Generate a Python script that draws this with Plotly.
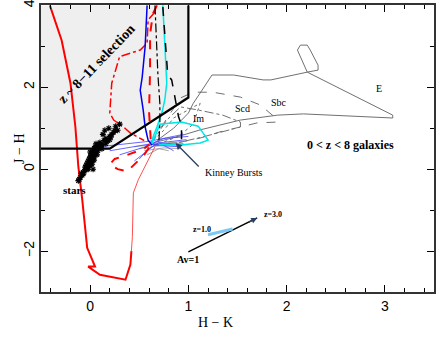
import plotly.graph_objects as go

# selection box (z ~ 8-11)
sel_x = [-0.5, 0.2, 1.0, 1.0]
sel_y = [0.5, 0.5, 1.75, 4.0]

# stars
star_x = [-0.12, -0.1, -0.08, -0.09, -0.06, -0.05, -0.04, -0.03, -0.02, -0.01, 0.0, 0.01, 0.02,
          0.03, 0.04, 0.0, -0.02, 0.02, 0.05, 0.06, 0.08, 0.07, 0.1, 0.12, 0.14, 0.16, 0.18,
          0.2, 0.22, 0.24, 0.13, 0.15, 0.19, 0.26, 0.28, 0.3, 0.1, 0.04, -0.07, 0.03,
          -0.11, -0.07, -0.04, -0.01, 0.01, 0.03, 0.05, 0.09, 0.11, 0.17, 0.21, 0.25, 0.06, 0.0,
          -0.05, -0.02, 0.02, 0.04, 0.07, 0.12, 0.16, 0.2, 0.08, -0.03]
star_y = [-0.28, -0.2, -0.15, -0.1, -0.05, 0.05, 0.1, 0.15, 0.2, 0.25, 0.3, 0.35, 0.4,
          0.45, 0.5, 0.1, 0.0, 0.2, 0.55, 0.45, 0.6, 0.5, 0.65, 0.6, 0.7, 0.75, 0.7,
          0.8, 0.85, 0.9, 0.85, 0.95, 1.0, 1.05, 0.95, 1.1, 0.55, 0.3, -0.12, 0.0,
          -0.25, -0.08, 0.0, 0.1, 0.18, 0.28, 0.38, 0.52, 0.58, 0.68, 0.78, 0.95, 0.62, 0.42,
          -0.02, 0.05, 0.12, 0.22, 0.35, 0.5, 0.62, 0.72, 0.45, 0.08]

# red solid (thick) track
red_x = [-0.41, -0.29, -0.2, -0.15, -0.12, -0.1, -0.08, -0.03, 0.05, -0.02, 0.1, 0.36, 0.41, 0.42]
red_y = [4.0, 3.15, 2.1, 1.03, 0.06, -0.33, -0.75, -1.92, -2.38, -2.38, -2.58, -2.7, -2.33, -2.0]
# red thin continuation
redthin_x = [0.42, 0.43, 0.44, 0.49, 0.54, 0.61, 0.66]
redthin_y = [-2.0, -1.65, -0.58, -0.26, -0.02, 0.3, 0.55]

# red dash-dot track
reddd_x = [0.66, 0.59, 0.58, 0.51, 0.3, 0.22, 0.2, 0.24, 0.34, 0.41, 0.55]
reddd_y = [3.84, 3.64, 3.08, 2.91, 2.75, 2.1, 1.37, 1.2, 1.03, 0.88, 0.7]

# red dashed track
redd_x = [0.68, 0.64, 0.61, 0.61, 0.6, 0.61, 0.62, 0.55, 0.45, 0.38, 0.28, 0.2, 0.25, 0.38, 0.55, 0.6]
redd_y = [4.0, 3.8, 3.3, 2.4, 1.4, 0.9, 0.6, 0.35, 0.1, -0.05, 0.0, 0.12, 0.25, 0.35, 0.5, 0.6]

# blue thick track
blue_x = [0.58, 0.56, 0.53, 0.51, 0.54, 0.56, 0.59, 0.63]
blue_y = [4.0, 3.0, 2.25, 1.93, 1.45, 1.03, 0.71, 0.59]

# blue thin tracks (fan)
bluethin = [
    ([0.1, 0.35, 0.6, 0.95], [0.55, 0.62, 0.68, 0.85]),
    ([0.2, 0.45, 0.62, 0.98], [0.45, 0.55, 0.62, 0.72]),
    ([0.3, 0.5, 0.63, 0.95], [0.35, 0.5, 0.6, 0.62]),
    ([0.45, 0.55, 0.65, 0.9], [0.2, 0.4, 0.58, 0.55]),
    ([0.5, 0.6, 0.7, 0.85], [0.25, 0.5, 0.65, 0.45]),
    ([0.62, 0.75, 1.0], [0.62, 0.75, 0.8]),
]

# cyan track
cyan_x = [0.74, 0.76, 0.78, 0.76, 0.73, 0.68, 0.64, 0.63, 0.71, 0.93, 1.1, 1.2, 1.12, 0.92, 0.7]
cyan_y = [4.0, 3.08, 2.1, 1.69, 1.37, 1.03, 0.79, 0.62, 1.1, 1.15, 1.05, 0.71, 0.64, 0.59, 0.6]

# black dashed / dash-dot tracks
blkd_x = [0.74, 0.76, 0.79, 0.83, 0.85, 0.9, 0.93, 0.93]
blkd_y = [3.96, 3.3, 2.3, 2.18, 1.93, 1.28, 1.08, 0.7]
blkdd_x = [0.66, 0.67, 0.69, 0.71, 0.71, 0.7]
blkdd_y = [4.0, 3.3, 2.3, 1.6, 1.1, 0.7]

# galaxy tracks
e_x = [0.68, 0.85, 1.0, 1.05, 1.12, 1.24, 1.46, 1.76, 1.84, 2.21, 2.11, 2.14, 2.21, 2.24, 2.32,
       2.32, 2.21, 3.08, 3.08, 2.58, 2.17, 1.91, 1.53, 1.12, 0.9, 0.65]
e_y = [0.7, 1.0, 1.37, 1.61, 1.86, 2.3, 2.3, 2.18, 2.18, 2.37, 2.91, 3.03, 3.03, 2.91, 2.54,
       2.42, 2.37, 1.32, 1.25, 1.3, 1.35, 1.32, 1.2, 0.96, 0.8, 0.65]
sbc_x = [0.62, 0.8, 0.92, 1.05, 1.25, 1.53, 1.73, 1.88, 1.9, 1.7, 1.53, 1.32, 1.12, 0.9, 0.65]
sbc_y = [0.65, 1.3, 1.74, 1.88, 1.88, 1.76, 1.57, 1.27, 1.15, 1.13, 1.03, 0.91, 0.76, 0.65, 0.6]
scd_x = [0.62, 0.78, 0.92, 1.09, 1.35, 1.53, 1.53, 1.35, 1.15, 0.9, 0.65]
scd_y = [0.62, 1.2, 1.52, 1.45, 1.32, 1.15, 1.03, 0.91, 0.79, 0.65, 0.6]
im_x = [0.6, 0.75, 0.85, 1.0, 1.12, 1.05, 0.9, 0.7]
im_y = [0.6, 0.95, 1.25, 1.45, 1.61, 1.1, 0.8, 0.62]
kin = [
    ([0.45, 0.7, 0.95], [0.55, 0.62, 0.68]),
    ([0.5, 0.72, 1.0], [0.5, 0.58, 0.6]),
    ([0.55, 0.75, 0.92], [0.45, 0.52, 0.5]),
    ([0.58, 0.7, 0.8], [0.35, 0.5, 0.45]),
]

# reddening vector
av_x = [1.0, 1.7]
av_y = [-2.02, -1.19]
avhl_x = [1.2, 1.45]
avhl_y = [-1.6, -1.46]

fig = go.Figure()
fig.add_trace(go.Scatter(x=sel_x + [-0.5], y=sel_y + [4.0], fill="toself", fillcolor="#efefef",
                         line=dict(width=0), mode="lines", hoverinfo="skip"))

gray = "#707070"
fig.add_trace(go.Scatter(x=e_x, y=e_y, mode="lines", line=dict(color=gray, width=1)))
fig.add_trace(go.Scatter(x=sbc_x, y=sbc_y, mode="lines", line=dict(color=gray, width=1, dash="dash")))
fig.add_trace(go.Scatter(x=scd_x, y=scd_y, mode="lines", line=dict(color=gray, width=1, dash="dashdot")))
fig.add_trace(go.Scatter(x=im_x, y=im_y, mode="lines", line=dict(color=gray, width=1, dash="dot")))
for kx, ky in kin:
    fig.add_trace(go.Scatter(x=kx, y=ky, mode="lines", line=dict(color="#909090", width=0.8)))
for bx, by in bluethin:
    fig.add_trace(go.Scatter(x=bx, y=by, mode="lines", line=dict(color="#4040ff", width=0.8)))

fig.add_trace(go.Scatter(x=red_x, y=red_y, mode="lines", line=dict(color="#ff0000", width=2)))
fig.add_trace(go.Scatter(x=redthin_x, y=redthin_y, mode="lines", line=dict(color="#ff5050", width=1)))
fig.add_trace(go.Scatter(x=reddd_x, y=reddd_y, mode="lines", line=dict(color="#ff0000", width=1.5, dash="dashdot")))
fig.add_trace(go.Scatter(x=redd_x, y=redd_y, mode="lines", line=dict(color="#ff0000", width=2, dash="dash")))
fig.add_trace(go.Scatter(x=blue_x, y=blue_y, mode="lines", line=dict(color="#0000ee", width=1.5)))
fig.add_trace(go.Scatter(x=cyan_x, y=cyan_y, mode="lines", line=dict(color="#00e5e5", width=1.5)))
fig.add_trace(go.Scatter(x=blkd_x, y=blkd_y, mode="lines", line=dict(color="black", width=1.5, dash="dash")))
fig.add_trace(go.Scatter(x=blkdd_x, y=blkdd_y, mode="lines", line=dict(color="black", width=1.2, dash="dashdot")))

fig.add_trace(go.Scatter(x=sel_x, y=sel_y, mode="lines", line=dict(color="black", width=2.2)))
fig.add_trace(go.Scatter(x=star_x, y=star_y, mode="markers",
                         marker=dict(symbol="asterisk", size=5, line=dict(color="black", width=1.1))))
fig.add_trace(go.Scatter(x=av_x, y=av_y, mode="lines", line=dict(color="black", width=1.5)))
fig.add_trace(go.Scatter(x=avhl_x, y=avhl_y, mode="lines", line=dict(color="#7cc8f2", width=3)))

serif = "Liberation Serif"
ann = []


def txt(x, y, s, size=11, bold=False, angle=0):
    ann.append(dict(x=x, y=y, text=f"<b>{s}</b>" if bold else s, showarrow=False, textangle=angle,
                    font=dict(family=serif, size=size, color="black")))


txt(0.07, 2.57, "z ~ 8−11 selection", 14, True, -46)
txt(-0.16, -0.5, "stars", 11, True)
txt(2.65, 0.59, "0 < z < 8 galaxies", 12, True)
txt(2.94, 1.96, "E", 10)
txt(1.92, 1.64, "Sbc", 10)
txt(1.55, 1.47, "Scd", 10)
txt(1.1, 1.25, "Im", 10)
txt(1.46, -0.09, "Kinney Bursts", 10)
txt(1.14, -1.48, "z=1.0", 8, True)
txt(1.86, -1.11, "z=3.0", 8, True)
txt(1.0, -2.21, "Av=1", 10, True)
ann.append(dict(x=0.87, y=0.64, ax=1.12, ay=0.03, axref="x", ayref="y", xref="x", yref="y",
                showarrow=True, arrowhead=2, arrowsize=1, arrowwidth=1.3, text=""))
ann.append(dict(x=1.7, y=-1.19, ax=1.6, ay=-1.31, axref="x", ayref="y", xref="x", yref="y",
                showarrow=True, arrowhead=2, arrowsize=0.8, arrowwidth=1.5, text=""))
# axis titles
ann.append(dict(x=0.443, y=0, xref="paper", yref="paper", yshift=-40, showarrow=False, text="H − K",
                font=dict(family=serif, size=14, color="black")))
ann.append(dict(x=-0.079, y=0.5, xref="paper", yref="paper", showarrow=False, text="J − H", textangle=-90,
                font=dict(family=serif, size=14, color="black")))

axis = dict(showline=True, linecolor="#333333", linewidth=1.5, mirror="ticks", ticks="inside",
            showgrid=False, zeroline=False, tickcolor="black", automargin=False,
            ticklabeloverflow="allow",
            tickfont=dict(family="Liberation Sans", size=14, color="black"))

fig.update_layout(
    width=436, height=343, showlegend=False,
    plot_bgcolor="white", paper_bgcolor="white",
    margin=dict(l=41, r=2, t=5, b=51),
    annotations=ann,
    xaxis=dict(axis, range=[-0.5, 3.5], dtick=1, ticklen=7,
               minor=dict(dtick=0.2, ticklen=4, ticks="inside", tickcolor="black")),
    yaxis=dict(axis, range=[-3, 4.01], tickvals=[-2, 0, 2, 4], ticklen=7, tickangle=-90,
               minor=dict(dtick=1, ticklen=4, ticks="inside", tickcolor="black")),
)

fig.write_html("out.html", config={"displayModeBar": False},
               post_script="document.body.style.margin='0';")
